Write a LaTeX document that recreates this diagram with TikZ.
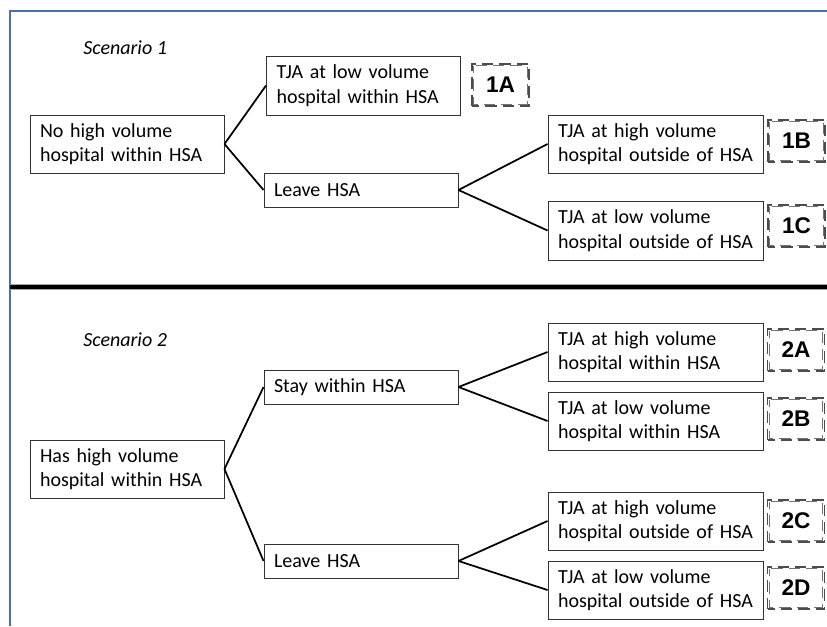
\documentclass[tikz,border=0pt]{standalone}
\usepackage{fontspec}
\setmainfont{Carlito}
\newfontfamily\labfont{Liberation Sans}
\definecolor{framblue}{HTML}{4A72A8}
\begin{document}
\begin{tikzpicture}[x=0.75pt,y=-0.75pt,
  box/.style={draw=black!80,line width=0.7pt,fill=white,minimum height=43.5pt,
    inner xsep=7.5pt,inner ysep=0pt,align=left,
    font=\fontsize{15}{18.3}\selectfont},
  wbox/.style={box,minimum width=145.5pt,text width=130.5pt},
  xbox/.style={box,minimum width=161.25pt,text width=146.25pt},
  sbox/.style={box,minimum width=145.5pt,text width=130.5pt,minimum height=25.5pt},
  tagline/.style={draw=black!70,line width=1.1pt,dash pattern=on 8.5pt off 4.5pt,dash phase=3pt},
  tag/.style={tagline,minimum width=42.75pt,minimum height=31.5pt,
    inner sep=0pt,font=\labfont\bfseries\fontsize{17}{20}\selectfont},
  conn/.style={line width=1.3pt,black},
  scen/.style={anchor=west,inner sep=0pt,font=\itshape\fontsize{15}{18}\selectfont}]
\useasboundingbox (0,0) rectangle (827,626);
% frame
\draw[framblue,line width=1.2pt] (10,626) -- (10,11) -- (827,11);
\draw[black!35,line width=4pt] (10,287) -- (827,287);
\draw[black,line width=2.4pt] (10,287) -- (827,287);
% Scenario 1
\node[scen] (sc1) at (83,48) {Scenario 1};
\node[wbox] (n1) at (127,144) {No high volume\\hospital within HSA};
\node[wbox,minimum height=44.25pt] (a1) at (363.5,85.5) {TJA at low volume\\hospital within HSA};
\node[sbox] (l1) at (361,190) {Leave HSA};
\node[xbox] (b1) at (655.5,144) {TJA at high volume\\hospital outside of HSA};
\node[xbox,minimum height=44.25pt] (c1) at (655.5,230.5) {TJA at low volume\\hospital outside of HSA};
\node[tag] (t1a) at (500.5,85) {1A};
\node[tag] (t1b) at (796.5,141) {1B};
\node[tag] (t1c) at (796.5,226) {1C};
\draw[conn] (n1.east) -- (a1.west);
\draw[conn] (n1.east) -- (l1.west);
\draw[conn] (l1.east) -- (b1.west);
\draw[conn] (l1.east) -- (c1.west);
% Scenario 2
\node[scen] (sc2) at (83,340) {Scenario 2};
\node[wbox] (n2) at (127,469) {Has high volume\\hospital within HSA};
\node[sbox] (s2) at (361,387) {Stay within HSA};
\node[sbox] (l2) at (361,561) {Leave HSA};
\node[xbox] (b2a) at (655.5,352) {TJA at high volume\\hospital within HSA};
\node[xbox] (b2b) at (655.5,421) {TJA at low volume\\hospital within HSA};
\node[xbox] (b2c) at (655.5,521) {TJA at high volume\\hospital outside of HSA};
\node[xbox] (b2d) at (655.5,590) {TJA at low volume\\hospital outside of HSA};
\node[tag] (t2a) at (796,350) {2A};
\node[tag] (t2b) at (796,419) {2B};
\node[tag] (t2c) at (796,521) {2C};
\node[tag] (t2d) at (796,588) {2D};
\foreach \t in {t1a,t1b,t1c,t2a,t2b,t2c,t2d}
  \draw[tagline,line width=0.8pt,draw=black!55]
    ([shift={(2pt,-2pt)}]\t.north west) rectangle ([shift={(-2pt,2pt)}]\t.south east);
\draw[conn] (n2.east) -- (s2.west);
\draw[conn] (n2.east) -- (l2.west);
\draw[conn] (s2.east) -- (b2a.west);
\draw[conn] (s2.east) -- (b2b.west);
\draw[conn] (l2.east) -- (b2c.west);
\draw[conn] (l2.east) -- (b2d.west);
\end{tikzpicture}
\end{document}
